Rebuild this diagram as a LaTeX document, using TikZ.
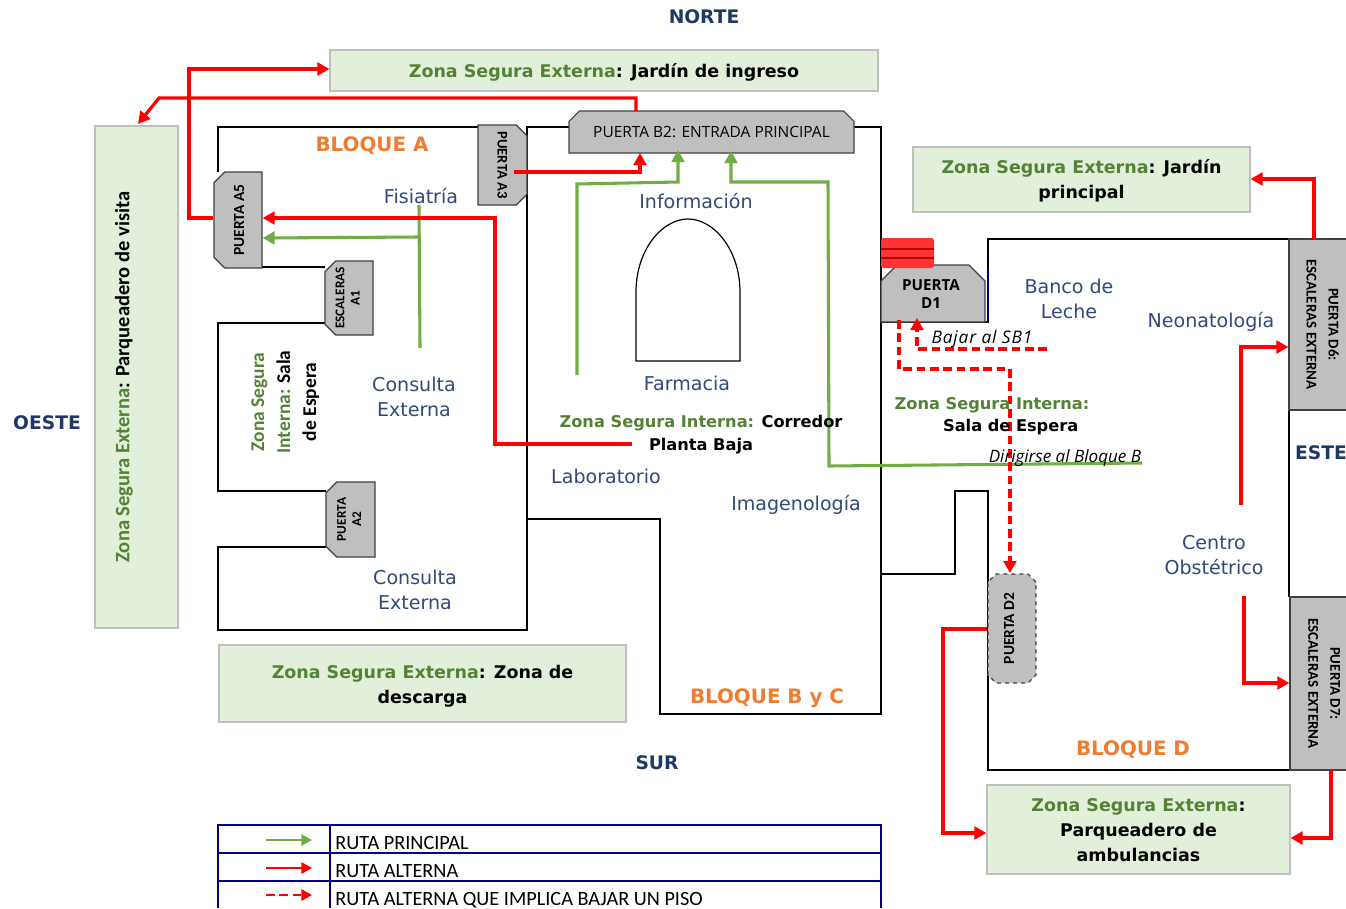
\documentclass[tikz,border=0pt]{standalone}
\usepackage{fontspec}
\setmainfont{DejaVu Sans}
\newfontfamily\carlito{Carlito}
\newfontfamily\opensans{Open Sans}
\newfontfamily\opensansls[LetterSpace=5]{Open Sans}
\usetikzlibrary{arrows.meta,shapes.misc}
\newdimen\px \px=0.75pt
\definecolor{navyt}{HTML}{1F3864}
\definecolor{bluet}{HTML}{32497A}
\definecolor{oranget}{HTML}{ED7D31}
\definecolor{greent}{HTML}{548235}
\definecolor{greenr}{HTML}{70AD47}
\definecolor{zonef}{HTML}{E2EFDA}
\definecolor{legn}{HTML}{000080}
\newcommand{\zg}[1]{\textcolor{greent}{#1}}
\newcommand{\lowered}[2]{\raisebox{#1}[\height][\depth]{\begin{tabular}{@{}c@{}}#2\end{tabular}}}
\tikzset{
  wall/.style={draw=black,line width=1.8pt},
  door/.style={chamfered rectangle,chamfered rectangle xsep=4.5pt,chamfered rectangle ysep=3.5pt,
     draw=black!75,fill=black!25,line width=0.9pt,inner sep=0pt,font=\carlito\bfseries\fontsize{11.6}{15}\selectfont,align=center},
  zone/.style={rectangle,draw=black!25,fill=zonef,line width=0.8pt,inner sep=0pt,align=center,
     font=\bfseries\fontsize{13.1}{18.75}\selectfont},
  place/.style={text=bluet,align=center,font=\fontsize{14.3}{18.75}\selectfont,inner sep=0pt},
  compass/.style={text=navyt,font=\bfseries\fontsize{14}{16}\selectfont,inner sep=0pt},
  blockl/.style={text=oranget,font=\bfseries\fontsize{14.9}{17}\selectfont,inner sep=0pt},
  greenroute/.style={draw=greenr,line width=2.3pt},
  redroute/.style={draw=red,line width=2.4pt},
  reddash/.style={draw=red,line width=2.4pt,dash pattern=on 6.5pt off 3.5pt},
  tipg/.style={-{Triangle[length=9pt,width=9.5pt]}},
  legtip/.style={line width=1.6pt,-{Triangle[length=8pt,width=8.5pt]}},
  note/.style={inner sep=0pt,font=\opensans\itshape\fontsize{12.8}{15}\selectfont},
  inner/.style={inner sep=0pt,align=center,font=\bfseries\fontsize{12.15}{17}\selectfont},
  legtext/.style={anchor=base west,inner sep=0pt,font=\carlito\fontsize{15.2}{17}\selectfont},
}
\begin{document}
\begin{tikzpicture}[x=\px,y=-\px]
\useasboundingbox (0,0) rectangle (1346,908);
% walls
\draw[wall] (478,127) -- (218,127) -- (218,172);
\draw[wall] (262,267) -- (325,267);
\draw[wall] (325,323) -- (218,323) -- (218,491) -- (326,491);
\draw[wall] (326,547) -- (218,547) -- (218,630) -- (527,630) -- (527,127) -- (881,127) -- (881,714) -- (660,714) -- (660,519) -- (527,519);
\draw[wall] (881,574) -- (955,574) -- (955,491) -- (988,491) -- (988,770) -- (1290,770);
\draw[wall] (881,322) -- (988,322) -- (988,239) -- (1290,239);
\draw[wall] (1289,410) -- (1289,597);
\draw[draw=legn,line width=1.2pt] (988,268) -- (988,320);
% farmacia arch
\draw[line width=0.9pt,fill=white] (636,361) -- (636,292) .. controls (636,250) and (662,219) .. (688,219) .. controls (714,219) and (740,250) .. (740,292) -- (740,361) -- cycle;
% zones
\node[zone,minimum width=548*\px,minimum height=41*\px] (z1) at (604,70.5) {\lowered{-1.5pt}{\zg{Zona Segura Externa}: Jardín de ingreso}};
\node[zone,minimum width=83*\px,minimum height=502*\px] (z2) at (136.5,377) {};
\node[inner sep=0pt,font=\carlito\bfseries\fontsize{15.4}{18}\selectfont] (z2t) at (124,377) {\rotatebox{90}{\zg{Zona Segura Externa}: Parqueadero de visita}};
\node[zone,minimum width=337*\px,minimum height=65*\px] (z3) at (1081.5,179.5) {\lowered{-1.2pt}{\zg{Zona Segura Externa}: Jardín\\principal}};
\node[zone,minimum width=407*\px,minimum height=77*\px] (z4) at (422.5,683.5) {\lowered{-1.5pt}{\zg{Zona Segura Externa}: Zona de\\descarga}};
\node[zone,minimum width=303*\px,minimum height=89*\px] (z5) at (1138.5,829.5) {\lowered{-1.5pt}{\zg{Zona Segura Externa}:\\Parqueadero de\\ambulancias}};
% doors
\node[door,chamfered rectangle corners={north west,south west},minimum width=48*\px,minimum height=96*\px] (a5) at (238,220) {\rotatebox{90}{\lowered{-1.5pt}{PUERTA A5}}};
\node[door,chamfered rectangle corners={north east,south east},minimum width=49*\px,minimum height=80*\px,font=\carlito\bfseries\fontsize{11}{13}\selectfont] (a3) at (502.5,165) {\rotatebox{-90}{PUERTA A3}};
\node[door,chamfered rectangle corners={north west,south west},minimum width=48*\px,minimum height=74*\px,font=\carlito\bfseries\fontsize{10}{11.5}\selectfont] (a1) at (349,298) {\rotatebox{90}{\begin{tabular}{@{}c@{}}ESCALERAS\\A1\end{tabular}}};
\node[door,chamfered rectangle corners={north west,south west},minimum width=49*\px,minimum height=75*\px,font=\carlito\bfseries\fontsize{10}{11.5}\selectfont] (a2) at (350.5,519.5) {\rotatebox{90}{\begin{tabular}{@{}c@{}}PUERTA\\A2\end{tabular}}};
\node[door,chamfered rectangle corners={north west,north east},minimum width=285*\px,minimum height=42*\px,font=\opensans\fontsize{11.6}{13}\selectfont] (b2) at (711.5,132) {PUERTA B2: ENTRADA PRINCIPAL};
\node[door,chamfered rectangle xsep=7pt,chamfered rectangle ysep=5pt,chamfered rectangle corners={north west,north east},minimum width=104*\px,minimum height=57*\px,font=\opensans\bfseries\fontsize{11.4}{13.5}\selectfont] (d1) at (933,293.5) {\lowered{-1.5pt}{\hspace*{-3pt}PUERTA\\\hspace*{-3pt}D1}};
\node[door,dashed,chamfered rectangle xsep=3pt,chamfered rectangle ysep=3pt,minimum width=48*\px,minimum height=109*\px] (d2) at (1012,628.5) {\rotatebox{90}{\lowered{1.5pt}{PUERTA D2}}};
\node[door,rectangle,minimum width=58*\px,minimum height=171*\px,font=\carlito\bfseries\fontsize{11.2}{16.5}\selectfont] (d6) at (1318,324.5) {\rotatebox{-90}{\lowered{3pt}{PUERTA D6:\\ESCALERAS EXTERNA}}};
\node[door,rectangle,minimum width=58*\px,minimum height=173*\px,font=\carlito\bfseries\fontsize{11.2}{16.5}\selectfont] (d7) at (1319,683.5) {\rotatebox{-90}{\lowered{3.5pt}{PUERTA D7:\\ESCALERAS EXTERNA}}};
% red blurred block
\fill[rounded corners=2pt,fill=red!80!white] (881,238) rectangle (934,268);
\draw[line width=1pt,draw=red!70!black] (881,249) -- (934,249) (881,258) -- (934,258);
% route ends
\coordinate (gfis) at (419,205);
\coordinate (gcons) at (420,348);
\coordinate (gj) at (418,237);
\coordinate (gfar) at (577,375);
\coordinate (gdir) at (1142,463);
\coordinate (rlab) at (632,444);
\coordinate (rneo) at (1241,505);
\coordinate (robs) at (1244,596);
\coordinate (rbaj) at (1047,349);
% green routes
\draw[greenroute] (gfis) -- (gcons);
\draw[greenroute,tipg] (gj) -- (a5.east |- 0,238);
\draw[greenroute,tipg] (gfar) -- (577,184) -- (678,182) -- (678,150);
\draw[greenroute,tipg] (gdir) -- (829,466) -- (828,182) -- (731,182) -- (731,151);
% red routes
\draw[redroute,tipg] (rlab) -- (495,444) -- (495,218) -- (a5.east |- 0,218);
\draw[redroute,tipg] (a5.west |- 0,218) -- (189,218) -- (189,69) -- (z1.west |- 0,69);
\draw[redroute,tipg] (636,111) -- (636,98) -- (159,98) -- (138,124);
\draw[redroute,tipg] (514,172) -- (640,172) -- (640,153);
\draw[redroute,tipg] (1314,239) -- (1314,179) -- (z3.east |- 0,179);
\draw[redroute,tipg] (rneo) -- (1241,347) -- (d6.west |- 0,347);
\draw[redroute,tipg] (robs) -- (1244,683) -- (d7.west |- 0,683);
\draw[redroute,tipg] (1331,770) -- (1331,838) -- (z5.east |- 0,838);
\draw[redroute,tipg] (d2.west |- 0,629) -- (943,629) -- (943,833) -- (z5.west |- 0,833);
\draw[reddash,tipg] (rbaj) -- (917,349) -- (917,318);
\draw[reddash,tipg] (899,320) -- (899,369) -- (1010,369) -- (1010,573);
% compass and block labels
\node[compass] (n) at (704,16.5) {NORTE};
\node[compass] (o) at (47,422.5) {OESTE};
\node[compass] (e) at (1321,452.5) {ESTE};
\node[compass] (s) at (657,762.5) {SUR};
\node[blockl] (ba) at (372,146) {BLOQUE A};
\node[blockl] (bb) at (767,698) {BLOQUE B y C};
\node[blockl] (bd) at (1133,750) {BLOQUE D};
% places
\node[place] (p1) at (421,196) {Fisiatría};
\node[place] (p2) at (696,201) {Información};
\node[place] (p3) at (687,383.5) {Farmacia};
\node[place] (p4) at (414,396.5) {Consulta\\Externa};
\node[place] (p5) at (415,590) {Consulta\\Externa};
\node[place] (p6) at (606,476.5) {Laboratorio};
\node[place] (p7) at (796,505) {Imagenología};
\node[place] (p8) at (1069,299) {Banco de\\Leche};
\node[place] (p9) at (1211,322) {Neonatología};
\node[place] (p10) at (1214,555) {Centro\\Obstétrico};
% notes
\node[note,font=\opensansls\itshape\fontsize{13}{15}\selectfont] (nb) at (982,339) {Bajar al SB1};
\node[note] (nd) at (1065,458) {Dirigirse al Bloque B};
\node[inner] (i1) at (701,434.5) {\zg{Zona Segura Interna:} Corredor\\Planta Baja};
\node[inner] (i2) at (992,416) {\zg{Zona Segura Interna:}\\\hspace*{28pt}Sala de Espera};
\node[inner,font=\carlito\bfseries\fontsize{14.6}{19.5}\selectfont] (i3) at (285,402) {\rotatebox{90}{\begin{tabular}{@{}c@{}}\zg{Zona Segura}\\\zg{Interna:} Sala\\de Espera\end{tabular}}};
% legend
\draw[draw=legn,line width=1.5pt] (218,908) -- (218,825) -- (881,825) -- (881,908);
\draw[draw=legn,line width=1.5pt] (218,853) -- (881,853) (218,881) -- (881,881) (330,825) -- (330,908);
\coordinate (l1a) at (266,840); \coordinate (l1b) at (312,840);
\coordinate (l2a) at (266,868); \coordinate (l2b) at (312,868);
\coordinate (l3a) at (266,895); \coordinate (l3b) at (312,895);
\draw[greenroute,legtip] (l1a) -- (l1b);
\draw[redroute,legtip] (l2a) -- (l2b);
\draw[reddash,legtip] (l3a) -- (l3b);
\node[legtext] (t1) at (335,849) {RUTA PRINCIPAL};
\node[legtext] (t2) at (335,877) {RUTA ALTERNA};
\node[legtext] (t3) at (335,905) {RUTA ALTERNA QUE IMPLICA BAJAR UN PISO};
\end{tikzpicture}
\end{document}
